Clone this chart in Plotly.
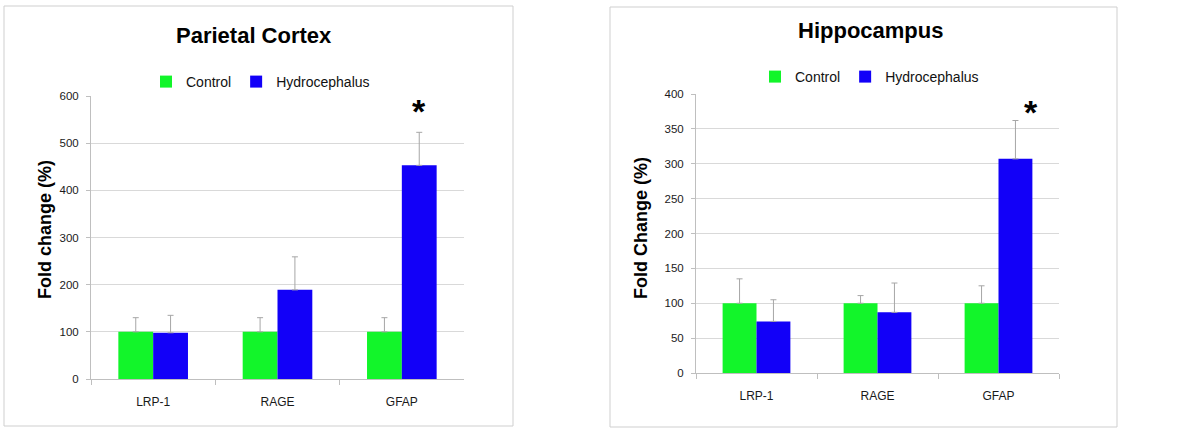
import plotly.graph_objects as go
from plotly.subplots import make_subplots

categories = ["LRP-1", "RAGE", "GFAP"]

# Parietal Cortex
pc_control = [100, 100, 100]
pc_control_err = [30, 30, 30]
pc_hydro = [98, 189, 453]
pc_hydro_err = [37, 70, 70]

# Hippocampus
hc_control = [100, 100, 100]
hc_control_err = [35, 11, 25]
hc_hydro = [74, 87, 307]
hc_hydro_err = [31, 42, 55]

GREEN = "#12f52a"
BLUE = "#1200f8"
ERR = "#a6a6a6"
GRID = "#d9d9d9"
AXIS = "#bfbfbf"
SANS = "Liberation Sans, Arial, sans-serif"

W, H = 1200, 433

def px_x(p):
    return p / W

def px_y(p):
    return 1 - p / H

fig = make_subplots(rows=1, cols=2)

def add_pair(col, ctrl, ctrl_err, hyd, hyd_err, legend):
    fig.add_trace(go.Bar(
        x=categories, y=ctrl, name="Control", marker=dict(color=GREEN, line=dict(width=0)),
        error_y=dict(type="data", array=ctrl_err, arrayminus=[0] * len(ctrl), symmetric=False,
                     color=ERR, thickness=1, width=3),
        legend=legend, showlegend=True), row=1, col=col)
    fig.add_trace(go.Bar(
        x=categories, y=hyd, name="Hydrocephalus", marker=dict(color=BLUE, line=dict(width=0)),
        error_y=dict(type="data", array=hyd_err, arrayminus=[0] * len(hyd), symmetric=False,
                     color=ERR, thickness=1, width=3),
        legend=legend, showlegend=True), row=1, col=col)

add_pair(1, pc_control, pc_control_err, pc_hydro, pc_hydro_err, "legend")
add_pair(2, hc_control, hc_control_err, hc_hydro, hc_hydro_err, "legend2")

xaxis_common = dict(
    showgrid=False, showline=True, linecolor=AXIS, linewidth=1,
    ticks="outside", tickson="boundaries", ticklen=5, tickcolor=AXIS,
    tickfont=dict(family=SANS, size=12, color="#1a1a1a"), ticklabelstandoff=12,
    zeroline=False, automargin=False,
)
yaxis_common = dict(
    showgrid=True, gridcolor=GRID, gridwidth=1, showline=True, linecolor=AXIS, linewidth=1,
    ticks="outside", ticklen=4, tickcolor=AXIS, zeroline=False, automargin=False,
    tickfont=dict(family=SANS, size=11.5, color="#1a1a1a"), ticklabelstandoff=5,
)

fig.update_layout(
    width=W, height=H, autosize=False, margin=dict(l=0, r=0, t=0, b=0, pad=0),
    paper_bgcolor="white", plot_bgcolor="white",
    barmode="group", bargap=0.44, bargroupgap=0,
    xaxis=dict(domain=[px_x(91), px_x(464)], **xaxis_common),
    xaxis2=dict(domain=[px_x(696), px_x(1059)], **xaxis_common),
    yaxis=dict(domain=[px_y(379), px_y(96)], range=[0, 600], dtick=100, **yaxis_common),
    yaxis2=dict(domain=[px_y(373), px_y(94)], range=[0, 400], dtick=50, **yaxis_common),
    legend=dict(orientation="h", x=px_x(138), xanchor="left", y=px_y(82), yanchor="middle",
                bgcolor="white", bordercolor="white", borderwidth=8,
                font=dict(family=SANS, size=14, color="#111111")),
    legend2=dict(orientation="h", x=px_x(755), xanchor="left", y=px_y(77), yanchor="middle",
                 bgcolor="rgba(0,0,0,0)", borderwidth=0,
                 font=dict(family=SANS, size=14, color="#111111")),
    showlegend=True,
)

# panel borders
fig.add_shape(type="rect", xref="paper", yref="paper", x0=px_x(4), x1=px_x(513),
              y0=px_y(426), y1=px_y(6), line=dict(color="#cfcfcf", width=1), layer="below")
fig.add_shape(type="rect", xref="paper", yref="paper", x0=px_x(610), x1=px_x(1117),
              y0=px_y(427), y1=px_y(7), line=dict(color="#cfcfcf", width=1), layer="below")

# titles
fig.add_annotation(text="<b>Parietal Cortex</b>", xref="paper", yref="paper", x=px_x(254), y=px_y(36),
                   xanchor="center", yanchor="middle",
                   showarrow=False, font=dict(family=SANS, size=22, color="black"))
fig.add_annotation(text="<b>Hippocampus</b>", xref="paper", yref="paper", x=px_x(870), y=px_y(30),
                   xanchor="center", yanchor="middle",
                   showarrow=False, font=dict(family=SANS, size=22, color="black"))

# y-axis titles
fig.add_annotation(text="<b>Fold change (%)</b>", xref="paper", yref="paper", x=px_x(45), y=px_y(230),
                   xanchor="center", yanchor="middle",
                   showarrow=False, textangle=-90, font=dict(family=SANS, size=18, color="black"))
fig.add_annotation(text="<b>Fold Change (%)</b>", xref="paper", yref="paper", x=px_x(641), y=px_y(228),
                   xanchor="center", yanchor="middle",
                   showarrow=False, textangle=-90, font=dict(family=SANS, size=18, color="black"))

# significance asterisks
fig.add_annotation(text="<b>*</b>", xref="x", yref="y", x="GFAP", y=568, xshift=17.5,
                   xanchor="center", yanchor="middle",
                   showarrow=False, font=dict(family=SANS, size=34, color="black"))
fig.add_annotation(text="<b>*</b>", xref="x2", yref="y2", x="GFAP", y=374, xshift=32,
                   xanchor="center", yanchor="middle",
                   showarrow=False, font=dict(family=SANS, size=34, color="black"))

fig.write_html("out.html", config={"displayModeBar": False},
               post_script="document.body.style.margin='0';")
